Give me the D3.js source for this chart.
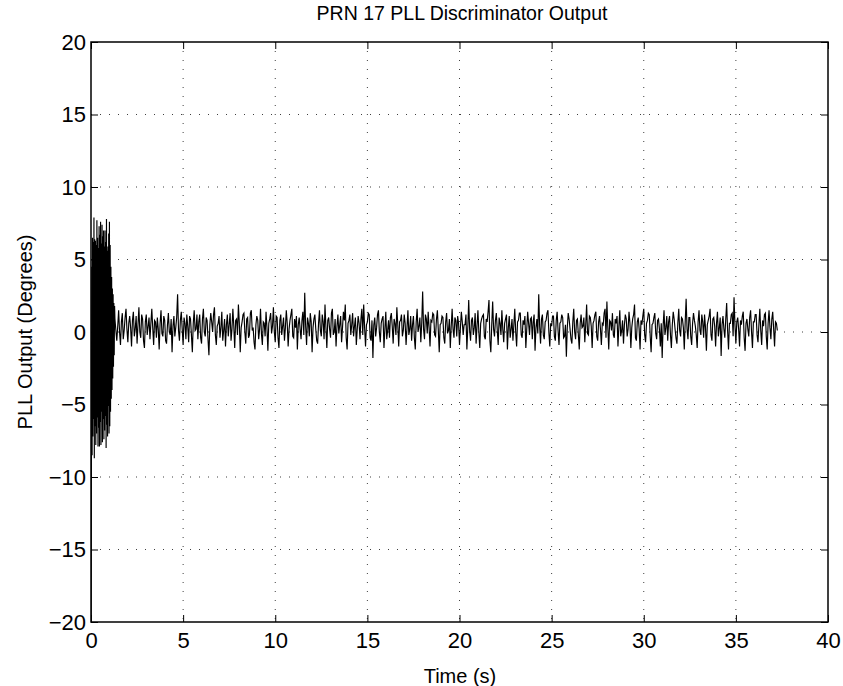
<!DOCTYPE html>
<html>
<head>
<meta charset="utf-8">
<script src="https://cdn.jsdelivr.net/npm/d3@7/dist/d3.min.js"></script>
<style>
  html, body { margin: 0; padding: 0; background: #fff; }
  #svg { width: 843px; height: 686px; }
  text { font-family: "Liberation Sans", Arial, Helvetica, sans-serif; fill: #000; }
  .grid line { stroke: #000; stroke-width: 1; stroke-dasharray: 1,8; opacity: 0.75; }
  .chart__line { fill: none; stroke: #000; stroke-width: 1.15; }
</style>
</head>
<body>
<div id="svg"></div>
<script>
// tick labels
var xTicks = [0, 5, 10, 15, 20, 25, 30, 35, 40];
var yTicks = [-20, -15, -10, -5, 0, 5, 10, 15, 20];

// start-up transient, one sample every 0.02 s from t = 0
var transientStep = 0.02;
var transientValues = [
  -30, -11, 4.5, -8.5, 6.5, -7.2, 6.2, -6.0, 7.9, -8.7,
  6.4, -6.5, 6.3, -7.8, 6.0, -7.0, 7.7, -5.9, 6.5, -7.9,
  5.8, -6.6, 7.3, -7.9, 6.7, -6.2, 7.6, -7.8, 6.1, -5.5,
  7.4, -7.6, 6.6, -6.0, 7.0, -7.4, 5.9, -6.8, 7.0, -5.8,
  6.2, -8.0, 7.8, -6.4, 5.6, -7.2, 5.9, -5.1, 6.8, -7.0,
  7.6, -6.5, 6.0, -5.5, 4.5, -4.6, 3.8, -4.0, 3.0, -3.2,
  2.6, -2.4, 2.0, -1.6, 1.8
];

// tracking, one sample every 0.05 s from t = 1.3 (one row per second)
var trackStart = 1.3;
var trackStep = 0.05;
var trackValues = [
  0.9, 0.1, -0.6, 0.4, 1.5, 0.0, -0.9, 0.7, 1.3, -0.5, 0.1, 1.0, 1.6, 0.2, -0.7, 0.6, 1.1, 0.3, -1.0, 0.8,
  1.4, -0.3, 0.2, 1.1, -0.8, 0.5, 1.7, 0.0, -0.4, 1.2, 0.9, -0.6, -1.1, 0.7, 1.2, -0.2, 0.4, 1.0, -0.5, 0.6,
  1.6, 0.3, -0.9, 0.8, 0.7, -0.4, 1.0, 0.2, -1.2, 0.6, 1.5, -0.1, -0.3, 1.1, 0.8, -0.6, -0.8, 0.5, 1.3, 0.0,
  -0.2, 0.9, -1.4, 0.4, 1.1, -0.3, 0.3, 1.0, 2.6, 0.1, -0.6, 0.8, 1.4, 0.2, -0.9, 1.0, 0.6, -0.5, 1.2, 0.4,
  -0.7, 1.1, 0.9, -0.2, -1.4, 0.6, 1.5, 0.1, 0.2, 1.2, -0.5, 0.7, 1.2, -0.4, -0.8, 0.9, 1.6, 0.0, -0.3, 1.0,
  0.8, -0.5, -1.6, 0.5, 1.3, 0.7, 0.0, 1.2, 1.7, -0.2, -0.9, 0.4, 0.6, 1.1, -0.4, 0.3, 1.4, -0.6, 0.1, 0.9,
  -1.0, 0.5, 1.2, -0.3, 0.5, 1.3, -0.6, 0.2, 1.6, 0.4, -1.1, 0.8, 0.9, -0.2, 1.9, 0.6, -1.4, 0.3, 0.7, 1.2,
  1.3, 0.0, -0.8, 0.9, 1.0, -0.4, -0.2, 1.3, 1.5, 0.1, 0.3, -0.7, -1.2, 0.5, 1.1, 0.8, -0.5, 0.2, 1.6, -0.1,
  -0.9, 0.7, 0.6, -0.3, 1.4, 0.3, -1.3, 0.6, 0.9, 1.3, -0.1, 0.4, 1.7, 0.0, -0.7, 1.1, 1.0, -0.4, -1.1, 0.8,
  1.2, -0.2, 0.4, 1.0, -0.6, 0.3, 1.5, 0.6, -1.0, 0.2, 0.8, 1.2, 1.6, -0.3, -0.4, 0.9, 0.3, 1.1, -1.2, 0.5,
  1.0, 0.2, -0.5, 0.8, 1.4, -0.2, 2.7, 0.4, -0.9, 1.0, 0.6, -0.3, 1.3, 0.7, -1.4, 0.3, 0.9, 1.2, 0.2, -0.6,
  -0.8, 0.6, 1.5, 0.1, -0.3, 1.2, 0.7, -0.5, 1.9, 0.3, -1.1, 0.8, 1.0, 0.2, -0.4, 1.3, 1.6, -0.2, 0.0, 0.9,
  -1.0, 0.4, 1.2, -0.1, 0.5, 1.1, -0.7, 0.3, 1.4, 0.8, 1.9, -0.4, -1.2, 0.6, 0.8, 1.2, -0.2, 0.5, 1.3, -0.3,
  0.4, 1.0, -0.9, 0.2, 1.1, 0.6, -0.5, 0.9, 1.6, -0.2, 1.9, 0.3, -1.0, 0.5, 0.7, 1.3, 1.2, -0.4, -0.6, 0.8,
  -1.8, 0.5, 1.0, -0.3, 0.3, 1.2, 1.5, 0.0, -0.7, 0.6, 0.9, 1.1, -1.1, 0.2, 1.4, -0.5, 0.1, 0.8, -0.4, 1.0,
  1.3, 0.4, -0.8, 0.9, 0.6, -0.2, 1.7, 0.5, -1.0, 0.7, 0.8, 1.2, -0.3, 0.1, 1.2, 0.6, -0.9, 0.3, 1.5, -0.2,
  0.2, 1.1, -0.6, 0.5, 1.1, -0.4, -1.2, 0.7, 1.6, 0.0, 0.4, 1.0, -0.7, 0.6, 2.8, 0.2, -0.5, 1.2, 0.9, -0.1,
  1.4, 0.3, -1.0, 0.8, 0.7, 1.3, 1.2, -0.2, -0.3, 0.9, 1.5, 0.1, -1.4, 0.5, 0.6, 1.1, 1.0, -0.4, -0.8, 0.7,
  1.3, -0.1, 0.1, 0.9, -1.1, 0.4, 1.6, 0.2, -0.4, 1.0, 0.8, -0.3, 1.1, 0.6, -0.9, 0.3, 1.4, 0.7, -0.2, 0.5,
  0.5, 1.2, -1.2, 0.3, 2.2, 0.1, -0.6, 0.8, 1.0, -0.2, 0.3, 1.3, -0.8, 0.4, 1.5, 0.0, -1.1, 0.6, 0.9, 1.1,
  1.2, -0.3, -0.5, 0.9, 0.7, 1.4, 2.2, -0.6, -1.4, 0.5, 2.1, 0.2, -0.3, 0.8, 1.3, 0.1, -0.9, 1.0, 0.6, -0.2,
  1.5, 0.2, -0.7, 0.6, 0.9, 1.2, -1.2, 0.3, 1.1, -0.4, 0.2, 0.9, -0.6, 0.5, 1.6, 0.0, -1.0, 0.7, 0.8, 1.3,
  1.3, -0.2, -0.4, 0.8, 0.5, 1.1, -1.1, 0.2, 1.4, 0.6, -0.2, 0.9, 1.0, -0.5, 0.7, 1.2, -1.3, 0.3, 0.9, -0.1,
  2.6, 0.4, -0.8, 0.9, 1.2, -0.2, -0.5, 0.7, 0.8, 1.3, 1.5, 0.0, -1.0, 0.6, 0.4, 1.1, 1.1, -0.3, -0.6, 0.8,
  1.4, 0.1, -0.9, 0.6, 0.7, 1.2, 1.0, -0.4, -0.3, 0.5, -1.7, 0.3, 1.3, 0.9, 0.2, -0.5, -0.8, 0.7, 1.6, 0.0,
  -0.5, 0.8, 0.9, -0.2, -1.2, 0.6, 1.2, 0.3, 0.4, 1.0, -0.7, 0.5, 1.9, -0.1, -0.2, 1.1, 1.0, 0.4, -1.1, 0.6,
  0.8, 1.2, 1.4, -0.3, -0.6, 0.7, 1.1, 0.2, -0.9, 0.6, 0.5, 1.3, 1.6, -0.4, 2.1, 0.3, -1.2, 0.8, 0.7, 0.1,
  1.3, -0.2, -0.4, 0.9, 0.6, 1.1, -1.0, 0.4, 1.5, -0.3, 0.1, 0.8, -0.8, 0.5, 1.2, 0.9, -0.3, 0.2, 1.4, 0.6,
  -1.1, 0.3, 0.9, 1.2, 1.9, -0.4, -0.6, 0.7, 1.0, 0.2, -1.2, 0.8, 0.5, 1.1, 1.6, -0.2, -0.7, 0.6, 0.8, 1.3,
  1.2, -0.3, -1.4, 0.5, 0.6, 1.0, 1.3, -0.1, -0.5, 0.8, 0.9, 0.2, -1.0, 0.6, -1.8, 0.4, 1.5, -0.2, 0.3, 1.1,
  -0.6, 0.7, 1.1, -0.2, -1.1, 0.5, 1.4, 0.9, 0.2, -0.4, -0.8, 0.6, 1.6, 0.1, -0.3, 1.0, 0.9, 0.3, -1.2, 0.7,
  2.3, 0.2, -0.5, 1.0, 1.0, -0.3, -0.9, 0.6, 1.3, 0.8, 0.4, -0.2, -1.1, 0.7, 1.5, 0.1, -0.2, 1.2, 0.7, -0.4,
  1.2, 0.3, -1.3, 0.5, 0.8, 1.1, 1.6, -0.2, -0.6, 0.9, 1.0, 0.4, -1.0, 0.6, 1.4, -0.3, 0.3, 1.0, -1.65, 0.5,
  1.1, 0.2, -0.4, 0.9, 2.0, 0.1, -1.2, 0.6, 0.6, 1.2, 1.3, -0.3, 2.4, 0.5, -0.8, 0.7, 1.0, 0.2, -1.0, 0.8,
  0.5, 1.1, 1.4, -0.4, -1.3, 0.6, 0.9, 0.2, -0.3, 1.0, 1.5, 0.0, -1.1, 0.7, 0.7, 1.2, 1.2, -0.2, -0.7, 0.5,
  1.6, 0.1, -0.9, 0.8, 0.4, 1.2, 1.3, -0.3, -1.2, 0.6, 1.5, 0.3, -0.5, 0.9, 1.4, 0.2, -1.0, 0.7, 0.6, 0.1
];

var data = transientValues.map(function(v, i){ return {t: i * transientStep, value: v}; })
  .concat(trackValues.map(function(v, i){ return {t: trackStart + i * trackStep, value: v}; }));

var margin = {top: 42, right: 15, bottom: 64, left: 91},
    width = 843 - margin.left - margin.right,
    height = 686 - margin.top - margin.bottom;

var x = d3.scaleLinear().domain([0, 40]).range([0, width]);
var y = d3.scaleLinear().domain([-20, 20]).range([height, 0]);

var svg = d3.select('#svg').append('svg')
    .attr('width', 843)
    .attr('height', 686);

svg.append('defs').append('clipPath').attr('id', 'plotClip')
  .append('rect').attr('width', width).attr('height', height);

var chartGroup = svg.append('g')
    .attr('transform', 'translate(' + margin.left + ',' + margin.top + ')');

// dotted grid
var grid = chartGroup.append('g').attr('class', 'grid');
grid.selectAll('.vgrid').data(xTicks.slice(1, -1)).enter().append('line')
  .attr('x1', function(d){ return x(d); }).attr('x2', function(d){ return x(d); })
  .attr('y1', 0).attr('y2', height);
grid.selectAll('.hgrid').data(yTicks.slice(1, -1)).enter().append('line')
  .attr('y1', function(d){ return y(d); }).attr('y2', function(d){ return y(d); })
  .attr('x1', 0).attr('x2', width);

// signal
var line = d3.line()
    .x(function(d){ return x(d.t); })
    .y(function(d){ return y(d.value); });

chartGroup.append('path')
  .attr('clip-path', 'url(#plotClip)')
  .attr('class', 'chart__line')
  .attr('d', line(data));

// axes, ticks pointing inward like matlab
var tickLen = 7;
chartGroup.append('g').attr('transform', 'translate(0,' + height + ')')
  .call(d3.axisBottom(x).tickValues(xTicks).tickSize(-tickLen).tickPadding(10))
  .call(function(g){ g.select('.domain').remove(); });
chartGroup.append('g')
  .call(d3.axisTop(x).tickValues(xTicks).tickSize(-tickLen).tickFormat(''))
  .call(function(g){ g.select('.domain').remove(); });
chartGroup.append('g')
  .call(d3.axisLeft(y).tickValues(yTicks).tickSize(-tickLen).tickPadding(5)
    .tickFormat(function(d){ return d < 0 ? '\u2212' + Math.abs(d) : d; }))
  .call(function(g){ g.select('.domain').remove(); });
chartGroup.append('g').attr('transform', 'translate(' + width + ',0)')
  .call(d3.axisRight(y).tickValues(yTicks).tickSize(-tickLen).tickFormat(''))
  .call(function(g){ g.select('.domain').remove(); });

chartGroup.selectAll('.tick line').attr('stroke', '#000').attr('stroke-width', 1);
chartGroup.selectAll('.tick text')
  .style('font-size', '22px')
  .style('font-family', '"Liberation Sans", Arial, sans-serif');

chartGroup.append('rect')
  .attr('width', width).attr('height', height)
  .attr('fill', 'none').attr('stroke', '#000').attr('stroke-width', 1.5);

// labels
svg.append('text')
  .attr('x', 462).attr('y', 20)
  .attr('text-anchor', 'middle').style('font-size', '19.5px')
  .text('PRN 17 PLL Discriminator Output');

svg.append('text')
  .attr('x', 460).attr('y', 683)
  .attr('text-anchor', 'middle').style('font-size', '20px')
  .text('Time (s)');

svg.append('text')
  .attr('transform', 'translate(32,' + (margin.top + height / 2) + ') rotate(-90)')
  .attr('text-anchor', 'middle').style('font-size', '20px')
  .text('PLL Output (Degrees)');
</script>
</body>
</html>
